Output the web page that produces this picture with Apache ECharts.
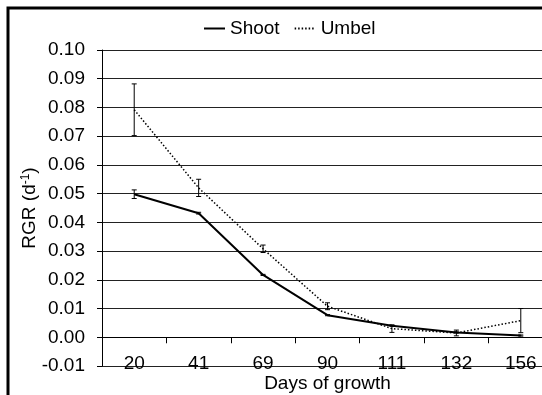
<!DOCTYPE html>
<html>
<head>
<meta charset="utf-8">
<script src="https://cdn.jsdelivr.net/npm/echarts@6/dist/echarts.min.js"></script>
<style>
  html, body { margin: 0; padding: 0; background: #fff; }
  #chart { width: 542px; height: 395px; }
</style>
</head>
<body>
<div id="chart"></div>
<script>
// days of growth (x categories)
const days = ['20', '41', '69', '90', '111', '132', '156'];
// relative growth rate, per day
const shoot = [0.0498, 0.0432, 0.0217, 0.0077, 0.0040, 0.0017, 0.0006];
const shootErr = [0.0015, 0.0003, 0.0002, 0.0002, 0.0002, 0.0002, 0.0002];
const umbel = [0.0792, 0.0520, 0.0308, 0.0108, 0.0030, 0.0015, 0.0058];
const umbelErr = [0.0090, 0.0030, 0.0013, 0.0012, 0.0013, 0.0010, 0.0042];
// y axis range
const yMin = -0.01, yMax = 0.1, yStep = 0.01;

const FONT = "'Liberation Sans', Arial, sans-serif";
const GRID = { left: 102, top: 50, right: -11, bottom: 29 };
const H = 395;

// the category axis sits on y = 0, so shift it up from the grid bottom
const plotH = H - GRID.top - GRID.bottom;
const zeroOffset = -plotH * (0 - yMin) / (yMax - yMin);

const chart = echarts.init(document.getElementById('chart'));

// error bars drawn through the axes (vertical line + small caps)
const errorSeries = (name, vals, errs) => ({
    name: name + ' err',
    type: 'custom',
    silent: true,
    z: 3,
    data: vals.map((v, i) => [i, v - errs[i], v + errs[i]]),
    renderItem: (params, api) => {
        const lo = api.coord([api.value(0), api.value(1)]);
        const hi = api.coord([api.value(0), api.value(2)]);
        const w = 2.5;
        const st = { stroke: '#000', lineWidth: 1 };
        return {
            type: 'group',
            children: [
                { type: 'line', shape: { x1: lo[0], y1: lo[1], x2: hi[0], y2: hi[1] }, style: st },
                { type: 'line', shape: { x1: lo[0] - w, y1: lo[1], x2: lo[0] + w, y2: lo[1] }, style: st },
                { type: 'line', shape: { x1: hi[0] - w, y1: hi[1], x2: hi[0] + w, y2: hi[1] }, style: st }
            ]
        };
    }
});

const option = {
    backgroundColor: '#fff',
    animation: false,
    textStyle: { fontFamily: FONT },
    grid: Object.assign({ containLabel: false, outerBoundsMode: 'none' }, GRID),
    legend: {
        left: 198,
        top: 14,
        itemWidth: 21,
        itemHeight: 14,
        itemGap: 14,
        itemStyle: { opacity: 0 },
        textStyle: { fontFamily: FONT, fontSize: 19, color: '#000' },
        data: ['Shoot', 'Umbel']
    },
    xAxis: {
        type: 'category',
        data: days,
        boundaryGap: true,
        position: 'bottom',
        offset: zeroOffset,
        name: 'Days of growth',
        nameLocation: 'middle',
        nameGap: 37,
        nameMoveOverlap: false,
        nameTextStyle: { fontFamily: FONT, fontSize: 19, color: '#000' },
        axisLine: { onZero: false, lineStyle: { color: '#000', width: 1 } },
        axisTick: { show: true, length: 6, lineStyle: { color: '#000' } },
        axisLabel: { margin: 17, fontFamily: FONT, fontSize: 19, color: '#000' },
        splitLine: { show: false }
    },
    yAxis: {
        type: 'value',
        min: yMin,
        max: yMax,
        interval: yStep,
        name: 'RGR (d{sup|-1})',
        nameLocation: 'middle',
        nameGap: 62,
        nameMoveOverlap: false,
        nameTextStyle: {
            fontFamily: FONT, fontSize: 19, color: '#000',
            rich: { sup: { fontFamily: FONT, fontSize: 12, color: '#000', verticalAlign: 'top', padding: [0, 0, 8, 0] } }
        },
        axisLine: { show: true, lineStyle: { color: '#000', width: 1 } },
        axisTick: { show: true, length: 5, lineStyle: { color: '#000' } },
        axisLabel: {
            margin: 17,
            fontFamily: FONT, fontSize: 19, color: '#000',
            formatter: v => v.toFixed(2)
        },
        splitLine: { show: true, lineStyle: { color: '#222', width: 1 } }
    },
    series: [
        {
            name: 'Shoot',
            type: 'line',
            data: shoot,
            symbol: 'none',
            z: 4,
            lineStyle: { color: '#000', width: 2 },
            itemStyle: { color: '#000' }
        },
        {
            name: 'Umbel',
            type: 'line',
            data: umbel,
            symbol: 'none',
            z: 4,
            lineStyle: { color: '#000', width: 1.5, type: [1.5, 2] },
            itemStyle: { color: '#000' }
        },
        errorSeries('Shoot', shoot, shootErr),
        errorSeries('Umbel', umbel, umbelErr)
    ],
    graphic: [{
        type: 'rect',
        silent: true,
        z: 100,
        shape: { x: 8, y: 8, width: 700, height: 600 },
        style: { fill: 'none', stroke: '#000', lineWidth: 3 }
    }]
};

chart.setOption(option);
</script>
</body>
</html>
